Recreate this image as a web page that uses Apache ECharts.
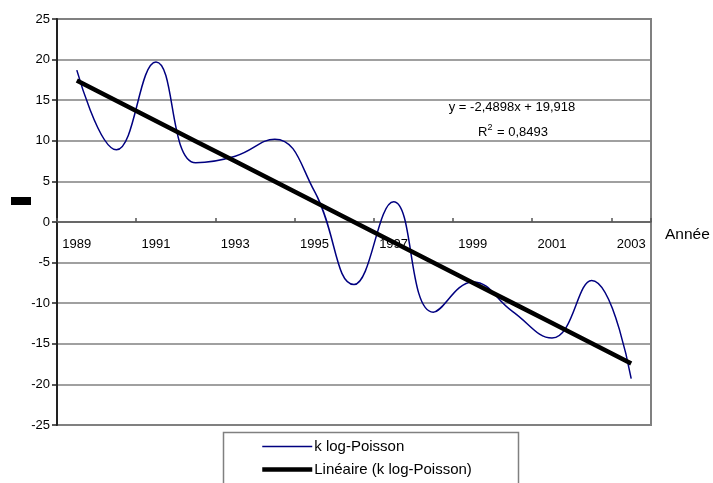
<!DOCTYPE html>
<html>
<head>
<meta charset="utf-8">
<script src="https://cdn.jsdelivr.net/npm/echarts@6/dist/echarts.min.js"></script>
<style>
  html, body { margin: 0; padding: 0; background: #fff; }
  #chart { width: 713px; height: 483px; }
</style>
</head>
<body>
<div id="chart"></div>
<script>
// Years on the category axis
const years = ['1989','1990','1991','1992','1993','1994','1995','1996','1997','1998','1999','2000','2001','2002','2003'];
// k log-Poisson, one value per year
const kLogPoisson = [18.7, 8.9, 19.7, 7.3, 8.1, 10.2, 3.8, -7.7, 2.5, -11.1, -7.4, -11.0, -14.3, -7.2, -19.3];
// Linear trend as printed on the chart: y = a*x + b, x = 1..15
const trendSlope = -2.4898;
const trendIntercept = 19.918;
const trendR2 = '0,8493';
// Value-axis ticks
const yTicks = [-25, -20, -15, -10, -5, 0, 5, 10, 15, 20, 25];

const trendValues = years.map((_, i) => +(trendSlope * (i + 1) + trendIntercept).toFixed(3));

const font = 'Liberation Sans, Arial, sans-serif';
const gridTop = 19, gridBottom = 58, chartH = 483;
const plotH = chartH - gridTop - gridBottom;
// distance from the bottom of the plot up to the zero line
const zeroOffset = plotH * (0 - yTicks[0]) / (yTicks[yTicks.length - 1] - yTicks[0]);

const chart = echarts.init(document.getElementById('chart'), null, { renderer: 'canvas' });

chart.setOption({
  animation: false,
  textStyle: { fontFamily: font, color: '#000' },
  grid: {
    left: 57, right: 62, top: gridTop, bottom: gridBottom,
    show: true, borderColor: '#808080', borderWidth: 2, backgroundColor: '#fff'
  },
  xAxis: {
    type: 'category',
    data: years,
    boundaryGap: true,
    position: 'bottom',
    offset: -zeroOffset,
    axisLine: { onZero: false, lineStyle: { color: '#555', width: 1.5 } },
    axisTick: { show: true, interval: 1, inside: true, length: 4, lineStyle: { color: '#555', width: 1.5 } },
    axisLabel: { interval: 1, color: '#000', fontSize: 13, fontFamily: font, margin: 16 },
    splitLine: { show: false },
    name: 'Année',
    nameLocation: 'end',
    nameGap: 14,
    nameTextStyle: { color: '#000', fontSize: 15.5, fontFamily: font, verticalAlign: 'top', padding: [5, 0, 0, 0] }
  },
  yAxis: {
    type: 'value',
    min: yTicks[0],
    max: yTicks[yTicks.length - 1],
    interval: 5,
    axisLine: { show: true, lineStyle: { color: '#222', width: 2 } },
    axisTick: { show: true, length: 5, lineStyle: { color: '#222', width: 1.5 } },
    axisLabel: { color: '#000', fontSize: 13, fontFamily: font, margin: 7 },
    splitLine: { show: true, lineStyle: { color: '#808080', width: 1.5 } }
  },
  legend: {
    orient: 'vertical',
    left: 255,
    top: 434,
    itemWidth: 50,
    itemHeight: 8,
    itemGap: 8,
    itemStyle: { opacity: 0 },
    textStyle: { color: '#000', fontSize: 15, fontFamily: font, padding: [0, 0, 0, -3] },
    data: [
      { name: 'k log-Poisson', lineStyle: { width: 1.5, color: '#000080' } },
      { name: 'Linéaire (k log-Poisson)', lineStyle: { width: 4.5, color: '#000' } }
    ]
  },
  series: [
    {
      name: 'k log-Poisson',
      type: 'line',
      data: kLogPoisson,
      smooth: 0.45,
      symbol: 'none',
      lineStyle: { color: '#000080', width: 1.5 },
      itemStyle: { color: '#000080' },
      z: 3
    },
    {
      name: 'Linéaire (k log-Poisson)',
      type: 'line',
      data: trendValues,
      symbol: 'none',
      lineStyle: { color: '#000', width: 4.5 },
      itemStyle: { color: '#000' },
      z: 4
    }
  ],
  graphic: [
    // box around the legend
    { type: 'rect', left: 221, top: 430, shape: { width: 295, height: 70 },
      style: { fill: 'none', stroke: '#808080', lineWidth: 1.5 }, z: -1 },
    // value-axis title block
    { type: 'rect', left: 11, top: 197, shape: { width: 20, height: 8 },
      style: { fill: '#000' } },
    // regression equation
    { type: 'text', style: {
        text: 'y = ' + String(trendSlope).replace('.', ',') + 'x + ' + String(trendIntercept).replace('.', ','),
        x: 512, y: 107, textAlign: 'center', textVerticalAlign: 'middle',
        font: '13px ' + font, fill: '#000' } },
    { type: 'text', style: {
        text: '{n|R}{s|2}{n| = ' + trendR2 + '}',
        x: 513, y: 131, textAlign: 'center', textVerticalAlign: 'middle',
        rich: {
          n: { fontSize: 13, fontFamily: font, color: '#000', verticalAlign: 'bottom', lineHeight: 16 },
          s: { fontSize: 9, fontFamily: font, color: '#000', verticalAlign: 'top', lineHeight: 16, padding: [0, 1, 5, 0] }
        } } }
  ]
});
</script>
</body>
</html>
